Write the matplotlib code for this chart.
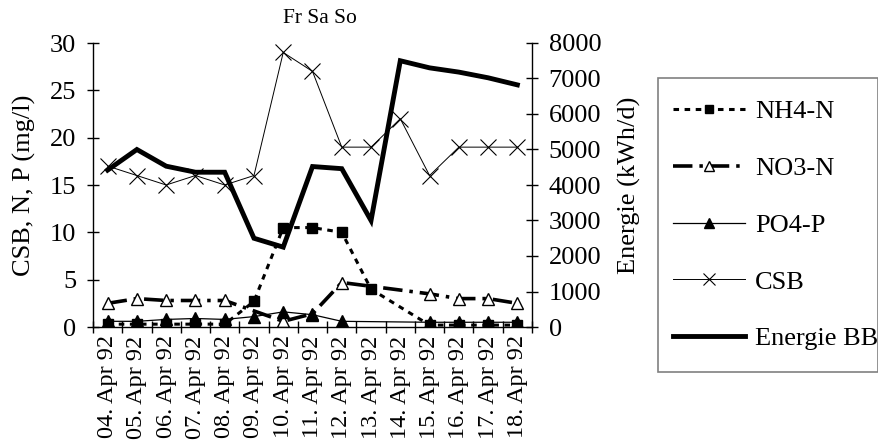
import numpy as np
import matplotlib
matplotlib.use("Agg")
import matplotlib.pyplot as plt
from matplotlib.patches import Rectangle

plt.rcParams["font.family"] = ["Liberation Serif", "DejaVu Serif"]
plt.rcParams["lines.scale_dashes"] = False

# Daily measurements, 04.-18. April 1992
dates = ["04. Apr 92", "05. Apr 92", "06. Apr 92", "07. Apr 92", "08. Apr 92",
         "09. Apr 92", "10. Apr 92", "11. Apr 92", "12. Apr 92", "13. Apr 92",
         "14. Apr 92", "15. Apr 92", "16. Apr 92", "17. Apr 92", "18. Apr 92"]
nh4_n = [0.3, 0.3, 0.3, 0.3, 0.3, 2.7, 10.5, 10.5, 10.0, 4.0, np.nan, 0.2, 0.2, 0.2, 0.2]
no3_n = [2.5, 3.0, 2.8, 2.8, 2.8, np.nan, 0.6, 1.4, 4.7, np.nan, np.nan, 3.5, 3.0, 3.0, 2.5]
po4_p = [0.6, 0.6, 0.8, 0.9, 0.8, 1.1, 1.6, 1.3, 0.6, np.nan, np.nan, 0.5, 0.5, 0.5, 0.5]
csb = [17, 16, 15, 16, 15, 16, 29, 27, 19, 19, 22, 16, 19, 19, 19]
energie_bb = [4420, 5000, 4530, 4360, 4360, 2500, 2250, 4520, 4460, 3000, 7500, 7300, 7180, 7020, 6820]
weekend_label = "Fr Sa So"
weekend_start = 6  # begins at 10. Apr (Friday)

W, H = 879, 444
fig = plt.figure(figsize=(W / 100, H / 100), dpi=100)
ax = fig.add_axes([93 / W, 1 - 327 / H, (532 - 93) / W, (327 - 43) / H])
ax2 = ax.twinx()

x = np.arange(len(dates))


def connected(vals):
    v = np.asarray(vals, dtype=float)
    m = ~np.isnan(v)
    return x[m], v[m]


xs, ys = connected(nh4_n)
l_nh4, = ax.plot(xs, ys, color="black", lw=2.2, ls=(0, (4, 4)),
                 marker="s", ms=7.5, mfc="black", mec="black")
xs, ys = connected(no3_n)
l_no3, = ax.plot(xs, ys, color="black", lw=2.6, ls=(0, (14, 5, 2.5, 5)),
                 marker="^", ms=9, mfc="white", mec="black", mew=1.0)
xs, ys = connected(po4_p)
l_po4, = ax.plot(xs, ys, color="black", lw=0.9, marker="^", ms=9,
                 mfc="black", mec="black")
l_csb, = ax.plot(x, csb, color="black", lw=0.7, marker="x", ms=11, mew=0.8)
l_en, = ax2.plot(x, energie_bb, color="black", lw=3.5, solid_joinstyle="miter")

ax.set_xlim(-0.5, len(dates) - 0.5)
ax.set_ylim(0, 30)
ax2.set_ylim(0, 8000)
ax.set_yticks(np.arange(0, 31, 5))
ax2.set_yticks(np.arange(0, 8001, 1000))

ax.set_xticks(x)
ax.set_xticklabels(dates, rotation=90, fontsize=17.5)
ax.set_xticks(np.arange(-0.5, len(dates)), minor=True)
ax.tick_params(axis="x", which="major", length=0, pad=6)
ax.tick_params(axis="x", which="minor", direction="inout", length=8, width=1)
ax.tick_params(axis="y", direction="inout", length=8, width=1, labelsize=19, pad=8)
ax2.tick_params(axis="y", direction="inout", length=8, width=1, labelsize=19, pad=8)

for a in (ax, ax2):
    a.spines["top"].set_visible(False)
    for s in ("left", "right", "bottom"):
        a.spines[s].set_linewidth(1.0)
ax.spines["right"].set_visible(False)
ax2.spines["left"].set_visible(False)
ax2.spines["bottom"].set_visible(False)

ax.set_ylabel("CSB, N, P (mg/l)", fontsize=19, labelpad=10)
ax2.set_ylabel("Energie (kWh/d)", fontsize=19, labelpad=12)

ax.text(weekend_start, 1.088, weekend_label, transform=ax.get_xaxis_transform(),
        ha="left", va="center", fontsize=15.5)

# Legend: frame drawn as its own rectangle, entries placed inside it
fig.patches.append(Rectangle((658 / W, 1 - 372 / H), (878 - 658) / W, (372 - 78) / H,
                             transform=fig.transFigure, fill=False,
                             edgecolor="#808080", linewidth=1.2))
handles = [l_nh4, l_no3, l_po4, l_csb, l_en]
labels = ["NH4-N", "NO3-N", "PO4-P", "CSB", "Energie BB"]
fig.legend(handles, labels, loc="upper left",
           bbox_to_anchor=(673 / W, 1 - 100 / H), borderaxespad=0,
           fontsize=19, frameon=False, borderpad=0,
           handlelength=2.73, handletextpad=0.38, labelspacing=1.26,
           markerscale=0.75)

fig.savefig("out.png", dpi=100)
